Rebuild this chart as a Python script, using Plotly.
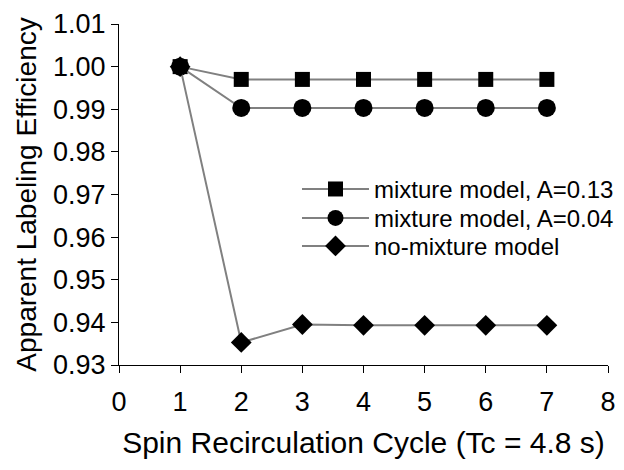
import plotly.graph_objects as go

cycles = [1, 2, 3, 4, 5, 6, 7]
mix_a013 = [1.000, 0.997, 0.997, 0.997, 0.997, 0.997, 0.997]
mix_a004 = [1.000, 0.9903, 0.9903, 0.9903, 0.9903, 0.9903, 0.9903]
no_mix = [1.000, 0.9353, 0.9395, 0.9393, 0.9393, 0.9393, 0.9393]

names = ["mixture model, A=0.13", "mixture model, A=0.04", "no-mixture model"]
symbols = ["square", "circle", "diamond"]
sizes = [15, 18, 16]
legend_ids = ["legend", "legend2", "legend3"]
legend_tops = [0.581, 0.496, 0.414]

fig = go.Figure()
for ys, nm, sym, sz, lg in zip([mix_a013, mix_a004, no_mix], names, symbols, sizes, legend_ids):
    fig.add_trace(go.Scatter(
        x=cycles, y=ys, name=nm, mode="lines+markers",
        line=dict(color="#808080", width=2),
        marker=dict(symbol=sym, size=sz, color="black"),
        legend=lg,
    ))

leg_common = dict(x=0.364, xanchor="left", yanchor="top",
                  bgcolor="rgba(0,0,0,0)", font=dict(size=24), itemwidth=67)

fig.update_layout(
    width=616, height=462,
    margin=dict(l=111, r=16, t=16, b=105, autoexpand=False),
    paper_bgcolor="white", plot_bgcolor="white",
    font=dict(family="Liberation Sans, Arial, sans-serif", color="black", size=27),
    showlegend=True,
    legend=dict(y=legend_tops[0], **leg_common),
    legend2=dict(y=legend_tops[1], **leg_common),
    legend3=dict(y=legend_tops[2], **leg_common),
    xaxis=dict(range=[0, 8], tickvals=list(range(9)), showline=True, linecolor="black",
               linewidth=1, ticks="outside", ticklen=7, tickcolor="black",
               ticklabelstandoff=6,
               showgrid=False, zeroline=False, automargin=False,
               title=dict(text="Spin Recirculation Cycle (Tc = 4.8 s)", font=dict(size=30), standoff=15)),
    yaxis=dict(range=[0.93, 1.01], tickvals=[0.93, 0.94, 0.95, 0.96, 0.97, 0.98, 0.99, 1.00, 1.01],
               tickformat=".2f", showline=True, linecolor="black", linewidth=1,
               ticks="outside", ticklen=7, tickcolor="black",
               showgrid=False, zeroline=False, automargin=False,
               title=dict(text="Apparent Labeling Efficiency", font=dict(size=28), standoff=8)),
)

fig.write_html("out.html")
